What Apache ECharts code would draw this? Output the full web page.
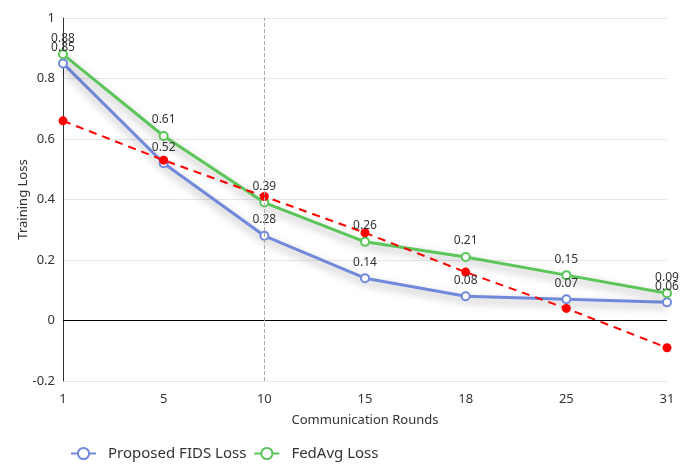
<!DOCTYPE html>
<html><head><meta charset="utf-8">
<script src="https://cdn.jsdelivr.net/npm/echarts@6/dist/echarts.min.js"></script>
<style>html,body{margin:0;padding:0;background:#fff}#c{width:691px;height:464px}</style>
</head><body><div id="c"></div>
<script>
var categories = ['1','5','10','15','18','25','31'];
var fidsLoss = [0.85,0.52,0.28,0.14,0.08,0.07,0.06];
var fedAvgLoss = [0.88,0.61,0.39,0.26,0.21,0.15,0.09];
var trendLine = [0.66,0.53,0.41,0.29,0.16,0.04,-0.09];
var yMin = -0.2, yMax = 1, yStep = 0.2;

var font = 'Noto Sans';
var chart = echarts.init(document.getElementById('c'));
chart.setOption({
  animation:false,
  textStyle:{fontFamily:font},
  grid:{left:63,right:24,top:18,bottom:83},
  legend:{bottom:-2,left:65,itemWidth:25,itemHeight:14,itemGap:7,
    textStyle:{fontSize:15,color:'#333',fontFamily:font,padding:[0,0,0,7]},
    data:['Proposed FIDS Loss','FedAvg Loss']},
  xAxis:{type:'category',data:categories,boundaryGap:false,
    name:'Communication Rounds',nameLocation:'middle',nameGap:33,
    nameTextStyle:{fontSize:13,color:'#333'},
    axisLine:{show:false,onZero:false},axisTick:{show:false},
    axisLabel:{fontSize:13,color:'#333',margin:12}},
  yAxis:{type:'value',min:yMin,max:yMax,interval:yStep,
    name:'Training Loss',nameLocation:'middle',nameGap:33,nameMoveOverlap:false,
    nameTextStyle:{fontSize:13,color:'#333'},
    axisLine:{show:true,lineStyle:{color:'#333'}},axisTick:{show:false},
    axisLabel:{fontSize:13,color:'#333'},
    splitLine:{lineStyle:{color:'#e6e6e6'}}},
  series:[
    {name:'Proposed FIDS Loss',type:'line',data:fidsLoss,
     symbol:'emptyCircle',symbolSize:8,
     itemStyle:{color:'#7189db'},
     lineStyle:{width:3,color:'#7189db',shadowColor:'rgba(0,0,0,0.35)',shadowBlur:8,shadowOffsetY:4},
     label:{show:true,position:'top',fontSize:12,color:'#333'}},
    {name:'FedAvg Loss',type:'line',data:fedAvgLoss,
     symbol:'emptyCircle',symbolSize:8,
     itemStyle:{color:'#5cc55a'},
     lineStyle:{width:3,color:'#5cc55a',shadowColor:'rgba(0,0,0,0.35)',shadowBlur:8,shadowOffsetY:4},
     label:{show:true,position:'top',fontSize:12,color:'#333'}},
    {name:'Trend',type:'line',data:trendLine,
     symbol:'circle',symbolSize:9,
     itemStyle:{color:'#ff0000'},
     lineStyle:{width:2,type:[8,6],color:'#ff0000'},
     markLine:{silent:true,symbol:'none',label:{show:false},
       data:[
         {yAxis:0,lineStyle:{color:'#000',type:'solid',width:1}},
         {xAxis:'10',lineStyle:{color:'#aaa',type:'dashed',width:1}}
       ]}}
  ]
});
</script></body></html>
